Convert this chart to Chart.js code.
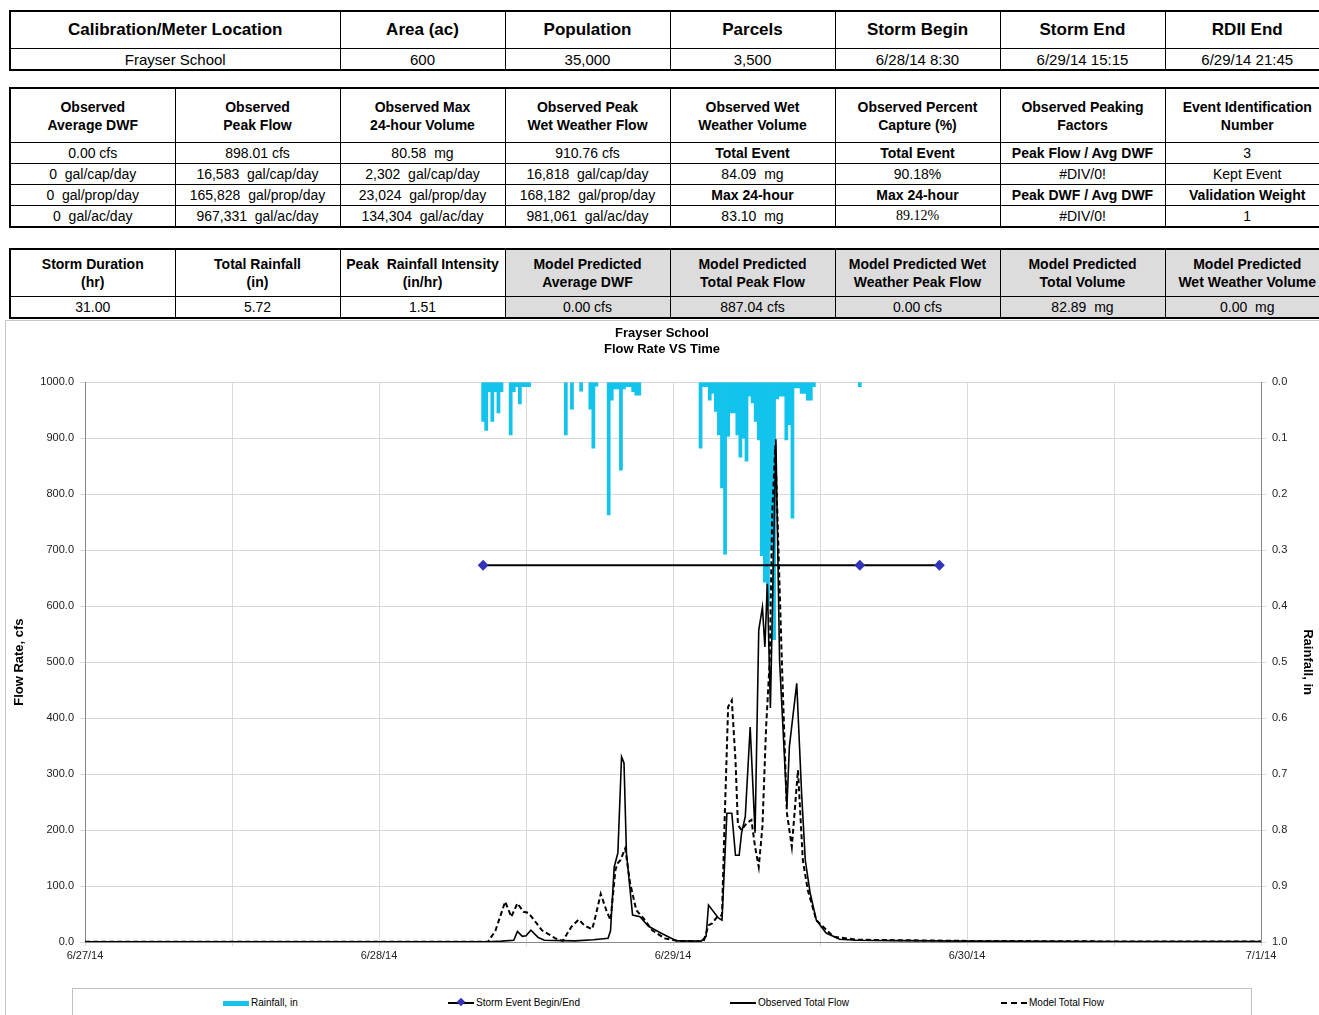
<!DOCTYPE html>
<html>
<head>
<meta charset="utf-8">
<script src="https://cdn.jsdelivr.net/npm/chart.js@4.4.0/dist/chart.umd.min.js"></script>
<style>
  body { margin: 0; width: 1319px; height: 1015px; overflow: hidden; background: #fff; position: relative;
         font-family: "Liberation Sans", Arial, sans-serif; color: #000; }
  table { position: absolute; left: 9px; width: 1320px; border-collapse: collapse; table-layout: fixed; border: 2px solid #000; }
  td { border: 1px solid #000; text-align: center; padding: 0; white-space: nowrap; overflow: hidden; }
  #t1 { top: 10px; }
  #t1 .h td { height: 36px; font-size: 17px; font-weight: bold; }
  #t1 .d td { height: 20px; font-size: 15px; }
  #t2 { top: 87px; }
  #t2 .h td { height: 53px; font-size: 14px; font-weight: bold; line-height: 18px; }
  #t2 .d td { height: 20px; font-size: 14px; }
  #t3 { top: 248px; }
  #t3 .h td { height: 46px; font-size: 14px; font-weight: bold; line-height: 18px; }
  #t3 .d td { height: 20px; font-size: 14px; }
  .b { font-weight: bold; }
  .g { background: #dcdcdc; }
  .serif { font-family: "Liberation Serif", "Times New Roman", serif; font-size: 13px; }
  #panel { position: absolute; left: 5px; top: 320px; width: 1320px; height: 720px; border: 1px solid #c8c8c8; }
  #chartBox { position: absolute; left: 5px; top: 320px; width: 1314px; height: 665px; }
  #legend { position: absolute; left: 72px; top: 988px; width: 1178px; height: 40px; border: 1px solid #c0c0c0; }
  .item { position: absolute; top: 8px; height: 12px; font-size: 10px; line-height: 12px; white-space: nowrap; }
  .sw { display: inline-block; vertical-align: middle; width: 26px; margin-right: 2px; position: relative; }
</style>
</head>
<body>

<table id="t1">
  <colgroup><col style="width:330px"><col style="width:165px"><col style="width:165px"><col style="width:165px"><col style="width:165px"><col style="width:165px"><col style="width:165px"></colgroup>
  <tr class="h"><td>Calibration/Meter Location</td><td>Area (ac)</td><td>Population</td><td>Parcels</td><td>Storm Begin</td><td>Storm End</td><td>RDII End</td></tr>
  <tr class="d"><td>Frayser School</td><td>600</td><td>35,000</td><td>3,500</td><td>6/28/14 8:30</td><td>6/29/14 15:15</td><td>6/29/14 21:45</td></tr>
</table>

<table id="t2">
  <colgroup><col style="width:165px"><col style="width:165px"><col style="width:165px"><col style="width:165px"><col style="width:165px"><col style="width:165px"><col style="width:165px"><col style="width:165px"></colgroup>
  <tr class="h"><td>Observed<br>Average DWF</td><td>Observed<br>Peak Flow</td><td>Observed Max<br>24-hour Volume</td><td>Observed Peak<br>Wet Weather Flow</td><td>Observed Wet<br>Weather Volume</td><td>Observed Percent<br>Capture (%)</td><td>Observed Peaking<br>Factors</td><td>Event Identification<br>Number</td></tr>
  <tr class="d"><td>0.00 cfs</td><td>898.01 cfs</td><td>80.58&nbsp; mg</td><td>910.76 cfs</td><td class="b">Total Event</td><td class="b">Total Event</td><td class="b">Peak Flow / Avg DWF</td><td>3</td></tr>
  <tr class="d"><td>0&nbsp; gal/cap/day</td><td>16,583&nbsp; gal/cap/day</td><td>2,302&nbsp; gal/cap/day</td><td>16,818&nbsp; gal/cap/day</td><td>84.09&nbsp; mg</td><td>90.18%</td><td>#DIV/0!</td><td>Kept Event</td></tr>
  <tr class="d"><td>0&nbsp; gal/prop/day</td><td>165,828&nbsp; gal/prop/day</td><td>23,024&nbsp; gal/prop/day</td><td>168,182&nbsp; gal/prop/day</td><td class="b">Max 24-hour</td><td class="b">Max 24-hour</td><td class="b">Peak DWF / Avg DWF</td><td class="b">Validation Weight</td></tr>
  <tr class="d"><td>0&nbsp; gal/ac/day</td><td>967,331&nbsp; gal/ac/day</td><td>134,304&nbsp; gal/ac/day</td><td>981,061&nbsp; gal/ac/day</td><td>83.10&nbsp; mg</td><td class="serif">89.12%</td><td>#DIV/0!</td><td>1</td></tr>
</table>

<table id="t3">
  <colgroup><col style="width:165px"><col style="width:165px"><col style="width:165px"><col style="width:165px"><col style="width:165px"><col style="width:165px"><col style="width:165px"><col style="width:165px"></colgroup>
  <tr class="h"><td>Storm Duration<br>(hr)</td><td>Total Rainfall<br>(in)</td><td>Peak&nbsp; Rainfall Intensity<br>(in/hr)</td><td class="g">Model Predicted<br>Average DWF</td><td class="g">Model Predicted<br>Total Peak Flow</td><td class="g">Model Predicted Wet<br>Weather Peak Flow</td><td class="g">Model Predicted<br>Total Volume</td><td class="g">Model Predicted<br>Wet Weather Volume</td></tr>
  <tr class="d"><td>31.00</td><td>5.72</td><td>1.51</td><td class="g">0.00 cfs</td><td class="g">887.04 cfs</td><td class="g">0.00 cfs</td><td class="g">82.89&nbsp; mg</td><td class="g">0.00&nbsp; mg</td></tr>
</table>

<div id="panel"></div>
<div id="chartBox"><canvas id="flowChart"></canvas></div>

<div id="legend">
  <div class="item" style="left:150px"><span class="sw" style="height:5px;background:#12c3ec"></span>Rainfall, in</div>
  <div class="item" style="left:375px"><span class="sw" style="height:2px;background:#000"><span style="position:absolute;left:10px;top:-3px;width:6px;height:6px;background:#3333bb;transform:rotate(45deg)"></span></span>Storm Event Begin/End</div>
  <div class="item" style="left:657px"><span class="sw" style="height:2px;background:#000"></span>Observed Total Flow</div>
  <div class="item" style="left:928px"><span class="sw" style="height:0;border-top:2px dashed #000"></span>Model Total Flow</div>
</div>

<script>
// Etiquetas del eje X (una por dia, horas desde 6/27/14 0:00)
const dayLabels = ['6/27/14', '6/28/14', '6/29/14', '6/30/14', '7/1/14'];

// Lluvia cada 15 minutos desde el inicio de la tormenta (6/28/14 8:30)
const rainStartHour = 32.5;
const rainStepHours = 0.25;
const rainfall = [
    0.070, 0.086, 0.017, 0.070, 0.017, 0.055, 0.017, 0,
    0, 0.094, 0.017, 0.008, 0.039, 0.008, 0.008, 0.008,
    0, 0, 0, 0, 0, 0, 0, 0,
    0, 0, 0, 0.094, 0, 0.048, 0, 0,
    0.016, 0, 0, 0.048, 0.118, 0.007, 0, 0,
    0, 0.237, 0.032, 0.012, 0.012, 0.157, 0.012, 0.008,
    0.008, 0.017, 0.023, 0.023, 0, 0, 0, 0,
    0, 0, 0, 0, 0, 0, 0, 0,
    0, 0, 0, 0, 0, 0, 0, 0.118,
    0.008, 0.008, 0.032, 0.020, 0.052, 0.094, 0.189, 0.307,
    0.097, 0.055, 0.055, 0.094, 0.134, 0.100, 0.141, 0.025,
    0.037, 0.070, 0.103, 0.310, 0.357, 0.400, 0.300, 0.460,
    0.030, 0.025, 0.025, 0.103, 0.076, 0.243, 0.010, 0.010,
    0.020, 0.020, 0.032, 0.032, 0.008, 0, 0, 0,
    0, 0, 0, 0, 0, 0, 0, 0,
    0, 0, 0, 0.008
];

// Flujo observado (cfs)
const obsHours = [0, 32.9, 34.0, 35.0, 35.3, 35.7, 36.0, 36.4, 37.0, 37.5, 40.0, 41.5, 42.7, 42.9, 43.2, 43.5, 43.8, 44.0,
    44.2, 44.7, 45.3, 46.0, 47.0, 48.3, 50.3, 50.7, 50.9, 51.7, 52.0, 52.4, 52.8, 53.1, 53.4, 53.6, 53.9, 54.3,
    54.7, 55.0, 55.3, 55.5, 55.7, 55.95, 56.4, 56.7, 57.3, 57.5, 58.1, 58.5, 58.8, 59.2, 59.7, 60.5, 61.6, 63, 66, 72, 84, 96];
const obsFlow = [0.5, 0.5, 1.5, 3, 19, 10, 11, 21, 8, 3, 2, 4, 6.5, 20, 134, 159, 331, 320,
    159, 48, 45, 28, 16, 2, 1.5, 10, 66, 43, 39, 230, 230, 155, 155, 195, 224, 384,
    195, 557, 598, 527, 640, 418, 898, 503, 242, 349, 462, 265, 146, 87, 39, 16, 5, 3, 2.5, 1.5, 1, 1];

// Flujo del modelo (cfs)
const modelHours = [0, 32.9, 33.5, 34.3, 34.8, 35.3, 35.8, 36.2, 36.7, 37.3, 38.4, 39.0, 39.7, 40.3, 40.8, 41.4, 41.6, 42.1,
    42.6, 42.9, 43.3, 43.5, 43.7, 44.1, 44.5, 45.0, 45.6, 46.3, 47.3, 48.4, 50.5, 50.9, 51.2, 51.6, 52.0, 52.2,
    52.5, 52.8, 53.1, 53.3, 53.6, 54.0, 54.4, 54.7, 55.0, 55.3, 55.6, 55.9, 56.1, 56.35, 56.9, 57.3, 57.7, 58.2,
    58.6, 59.0, 59.7, 61.1, 63, 72, 84, 96];
const modelFlow = [0.5, 0.5, 20, 72, 45, 69, 54, 52, 38, 21, 6.5, 2, 27, 40, 29, 23, 39, 86,
    54, 39, 129, 141, 146, 167, 105, 57, 42, 21, 6.5, 2, 1, 30, 33, 45, 48, 206,
    420, 432, 325, 209, 200, 212, 218, 170, 134, 206, 384, 503, 766, 887, 492, 230, 170, 307,
    146, 93, 39, 9.5, 4, 2, 1, 1];

// Inicio / fin de tormenta / fin RDII
const stormHours = [32.5, 63.25, 69.75];
const stormLevel = [673, 673, 673];

const fontFamily = '"Liberation Sans", Arial, sans-serif';

const rainPoints = rainfall
    .map((v, i) => ({ x: rainStartHour + i * rainStepHours, y: v }))
    .filter(p => p.y > 0);
const obsPoints = obsHours.map((h, i) => ({ x: h, y: obsFlow[i] }));
const modelPoints = modelHours.map((h, i) => ({ x: h, y: modelFlow[i] }));
const stormPoints = stormHours.map((h, i) => ({ x: h, y: stormLevel[i] }));

const ctx = document.getElementById('flowChart').getContext('2d');
const flowChart = new Chart(ctx, {
    type: 'line',
    data: {
        datasets: [
            {
                type: 'bar',
                label: 'Rainfall, in',
                data: rainPoints,
                yAxisID: 'y2',
                backgroundColor: '#12c3ec',
                borderWidth: 0,
                barPercentage: 1,
                categoryPercentage: 1,
                order: 5
            },
            {
                label: 'Storm Event Begin/End',
                data: stormPoints,
                yAxisID: 'y',
                borderColor: '#000',
                borderWidth: 2,
                pointStyle: 'rectRot',
                pointRadius: 4,
                pointBackgroundColor: '#3333bb',
                pointBorderColor: '#3333bb',
                order: 3
            },
            {
                label: 'Model Total Flow',
                data: modelPoints,
                yAxisID: 'y',
                borderColor: '#000',
                borderWidth: 2,
                borderDash: [5, 3],
                pointRadius: 0,
                tension: 0,
                order: 2
            },
            {
                label: 'Observed Total Flow',
                data: obsPoints,
                yAxisID: 'y',
                borderColor: '#000',
                borderWidth: 1.6,
                pointRadius: 0,
                tension: 0,
                order: 1
            }
        ]
    },
    options: {
        responsive: true,
        maintainAspectRatio: false,
        animation: false,
        layout: { padding: 0 },
        plugins: {
            legend: { display: false },
            tooltip: { enabled: false },
            title: {
                display: true,
                text: ['Frayser School', 'Flow Rate VS Time'],
                color: '#000',
                font: { family: fontFamily, size: 13, weight: 'bold', lineHeight: 1.2 },
                padding: { top: 6, bottom: 25 }
            }
        },
        scales: {
            x: {
                type: 'linear',
                min: 0,
                max: 96,
                offset: false,
                grid: { color: '#d9d9d9', tickLength: 4, offset: false },
                border: { color: '#888' },
                ticks: {
                    stepSize: 12,
                    autoSkip: false,
                    maxRotation: 0,
                    padding: 3,
                    color: '#222',
                    font: { family: fontFamily, size: 11 },
                    callback: v => (v % 24 === 0 ? dayLabels[v / 24] : '')
                },
                afterFit: s => { s.height = 43; }
            },
            y: {
                position: 'left',
                min: 0,
                max: 1000,
                grid: { color: '#d9d9d9', tickLength: 5 },
                border: { color: '#888' },
                ticks: {
                    stepSize: 100,
                    padding: 6,
                    color: '#222',
                    font: { family: fontFamily, size: 11 },
                    callback: v => v.toFixed(1)
                },
                title: {
                    display: true,
                    text: 'Flow Rate, cfs',
                    color: '#000',
                    font: { family: fontFamily, size: 13, weight: 'bold' },
                    padding: { top: 7, bottom: 0 }
                },
                afterFit: s => { s.width = 80; }
            },
            y2: {
                position: 'right',
                min: 0,
                max: 1,
                reverse: true,
                grid: { drawOnChartArea: false, tickLength: 5, color: '#d9d9d9' },
                border: { color: '#888' },
                ticks: {
                    stepSize: 0.1,
                    padding: 6,
                    color: '#222',
                    font: { family: fontFamily, size: 11 },
                    callback: v => v.toFixed(1)
                },
                title: {
                    display: true,
                    text: 'Rainfall, in',
                    color: '#000',
                    font: { family: fontFamily, size: 13, weight: 'bold' },
                    padding: { top: 4, bottom: 0 }
                },
                afterFit: s => { s.width = 58; }
            }
        }
    }
});
</script>
</body>
</html>
